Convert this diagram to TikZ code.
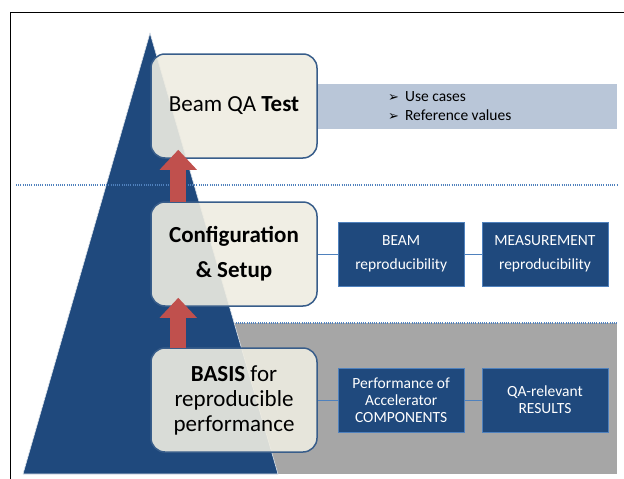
\documentclass[tikz,border=0pt]{standalone}
\usepackage{fontspec}
\setmainfont{Carlito}
\newfontfamily\symfont{DejaVu Sans}
\usetikzlibrary{positioning,arrows.meta}
\definecolor{navy}{HTML}{1F497D}
\definecolor{boxline}{HTML}{385D8A}
\definecolor{paper}{HTML}{EEECE1}
\definecolor{bandblue}{HTML}{B9C6D8}
\definecolor{dotblue}{HTML}{4F81BD}
\definecolor{brick}{HTML}{C0504D}
\definecolor{greyzone}{HTML}{A6A6A6}
\newcommand{\tip}{{\symfont\fontsize{13}{13}\selectfont ➢}\hspace{6pt}}

\begin{document}
\begin{tikzpicture}[x=1pt,y=-1pt,
  level/.style={draw=boxline,line width=1.5pt,fill=paper,fill opacity=0.9,text opacity=1,rounded corners=14pt,minimum width=166pt,minimum height=104pt,align=center,font=\fontsize{23}{26}\selectfont},
  item/.style={draw=dotblue,line width=0.8pt,fill=navy,text=white,minimum width=126pt,minimum height=64pt,align=center,inner sep=2pt,font=\fontsize{15.5}{17}\selectfont},
  link/.style={dotblue,line width=0.8pt},
  lift/.style={brick,line width=16pt,-{Triangle[length=20pt,width=36pt]}},
  divider/.style={dotblue,line width=1.2pt,dash pattern=on 1pt off 1.2pt}]

\useasboundingbox (0,0) rectangle (624,479);
\draw[line width=0.8pt] (10,479) -- (10,12) -- (624,12);

\fill[greyzone] (229,323) rectangle (617,474);
\draw[divider] (229,323) -- (617,323);
\fill[navy,draw=white!85!navy,line width=0.6pt] (150,33) -- (278,474) -- (23,474) -- cycle;
\draw[divider] (16,185) -- (617,185);

\node[fill=bandblue,minimum width=300pt,minimum height=45pt,inner sep=0pt,anchor=west] (band) at (317,106) {};
\node[anchor=west,align=left,inner sep=0pt,font=\fontsize{15.5}{19}\selectfont] (uses) at ([xshift=71pt]band.west) {\tip Use cases\\\tip Reference values};

\node[level] (qa) at (234,106) {Beam QA \textbf{Test}};
\node[level,font=\fontsize{23}{35}\selectfont\bfseries] (cfg) at (234,254) {Configuration\\\& Setup};
\node[level,font=\fontsize{23}{25}\selectfont] (basis) at (234,400) {\textbf{BASIS} for\\reproducible\\performance};

\node[item,right=20pt of cfg,font=\fontsize{15.5}{24}\selectfont] (beam) {BEAM\\reproducibility};
\node[item,right=17pt of beam,font=\fontsize{15.5}{24}\selectfont] (meas) {MEASUREMENT\\reproducibility};
\node[item,right=20pt of basis] (perf) {Performance of\\Accelerator\\COMPONENTS};
\node[item,right=17pt of perf] (res) {QA-relevant\\RESULTS};

\draw[link] (cfg) -- (beam) -- (meas);
\draw[link] (basis) -- (perf) -- (res);

\draw[lift] ([xshift=28pt,yshift=-1pt]cfg.north west) -- ([xshift=28pt,yshift=9pt]qa.south west);
\draw[lift] ([xshift=28pt,yshift=-1pt]basis.north west) -- ([xshift=28pt,yshift=9pt]cfg.south west);

\end{tikzpicture}
\end{document}
